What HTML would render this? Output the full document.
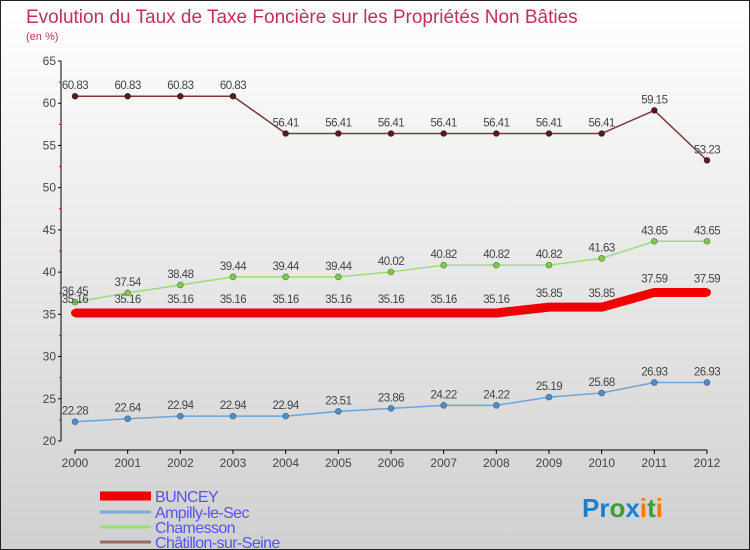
<!DOCTYPE html>
<html><head><meta charset="utf-8"><style>
body{margin:0}
#c{width:750px;height:550px;position:relative;overflow:hidden;box-sizing:border-box;border:1px solid #222;background:linear-gradient(#ffffff,#d0d0d0);font-family:"Liberation Sans",sans-serif}
</style></head><body>
<div id="c">
<svg id="s" width="750" height="550" style="position:absolute;left:-1px;top:-1px">
<text x="26" y="23" font-size="19" fill="#c0305a">Evolution du Taux de Taxe Foncière sur les Propriétés Non Bâties</text>
<text x="26" y="40" font-size="11" fill="#c0305a">(en %)</text>
<g id="axes"></g><g id="series"></g><g id="legend"></g>
<text x="582" y="517" font-size="26" font-weight="bold"><tspan fill="#1a7fd0">Pr</tspan><tspan fill="#3a9e3a">o</tspan><tspan fill="#1a7fd0">x</tspan><tspan fill="#f07a10">i</tspan><tspan fill="#3a9e3a">t</tspan><tspan fill="#f07a10">i</tspan></text>
</svg></div>
<script>
const years=[2000,2001,2002,2003,2004,2005,2006,2007,2008,2009,2010,2011,2012];
const yTicks=[20,25,30,35,40,45,50,55,60,65];
const buncey=[35.16,35.16,35.16,35.16,35.16,35.16,35.16,35.16,35.16,35.85,35.85,37.59,37.59];
const ampilly=[22.28,22.64,22.94,22.94,22.94,23.51,23.86,24.22,24.22,25.19,25.68,26.93,26.93];
const chamesson=[36.45,37.54,38.48,39.44,39.44,39.44,40.02,40.82,40.82,40.82,41.63,43.65,43.65];
const chatillon=[60.83,60.83,60.83,60.83,56.41,56.41,56.41,56.41,56.41,56.41,56.41,59.15,53.23];
const NS="http://www.w3.org/2000/svg";
const X=i=>75+i*(707-75)/(years.length-1);
const Y=v=>441-(v-20)*(380/45);
function mk(p,t,a){const e=document.createElementNS(NS,t);for(const k in a)e.setAttribute(k,a[k]);p.appendChild(e);return e;}
const ax=document.getElementById('axes');
let l=mk(ax,'line',{x1:61,y1:Y(65),x2:61,y2:Y(20),stroke:'#000'});

l=mk(ax,'line',{x1:75,y1:450,x2:707,y2:450,stroke:'#000'});

yTicks.forEach(v=>{mk(ax,'line',{x1:58,y1:Y(v),x2:61,y2:Y(v),stroke:'#000'});
 if(v<65)mk(ax,'line',{x1:59,y1:Y(v+2.5),x2:61,y2:Y(v+2.5),stroke:'#e00'});
 const t=mk(ax,'text',{x:56,y:Y(v)+4,'font-size':12,fill:'#444','text-anchor':'end'});t.textContent=v;
 });
years.forEach((y,i)=>{mk(ax,'line',{x1:X(i),y1:450,x2:X(i),y2:454,stroke:'#000'});
 const t=mk(ax,'text',{x:X(i),y:467,'font-size':12,fill:'#444','text-anchor':'middle'});t.textContent=y;
 });
const sg=document.getElementById('series');
function series(name,data,color,w,r,dot,strk,dy){
 const g=mk(sg,'g',{});
 const pl=mk(g,'polyline',{points:data.map((v,i)=>X(i)+','+Y(v)).join(' '),fill:'none',stroke:color,'stroke-width':w,'stroke-linejoin':'round'});
 
 data.forEach((v,i)=>{const c=mk(g,'circle',{cx:X(i),cy:Y(v),r:r,fill:dot,stroke:strk,'stroke-width':0.7});
  
  const t=mk(g,'text',{x:X(i),y:Y(v)+dy,'font-size':11.5,fill:'#444','text-anchor':'middle','letter-spacing':'-0.5'});t.textContent=v.toFixed(2);
  });
}
series('ampilly',ampilly,'#6fa3d6',1.5,3,'#4a90d0','rgba(0,0,0,0.4)',-7);
series('chamesson',chamesson,'#99dd77',1.5,3,'#7ccc44','rgba(0,0,0,0.4)',-7);
series('chatillon',chatillon,'#7a3a3a',1.5,3,'#5a1a1a','rgba(0,0,0,0.4)',-7);
series('buncey',buncey,'#f00000',9,4,'#f00000','none',-10);
const lg=document.getElementById('legend');
const names=['BUNCEY','Ampilly-le-Sec','Chamesson','Châtillon-sur-Seine'];
const cols=['#f00000','#7aaad6','#99dd77','#9a6a6a'];
names.forEach((n,i)=>{
 const yy=[496,512,527,542][i];
 const ln=mk(lg,'line',{x1:100,y1:yy,x2:151,y2:yy,stroke:cols[i],'stroke-width':i==0?9:3});
 
 const t=mk(lg,'text',{x:155,y:yy+6,'font-size':16,fill:'#5555ee','letter-spacing':'-0.6'});t.textContent=n;
 });
</script>
</body></html>
